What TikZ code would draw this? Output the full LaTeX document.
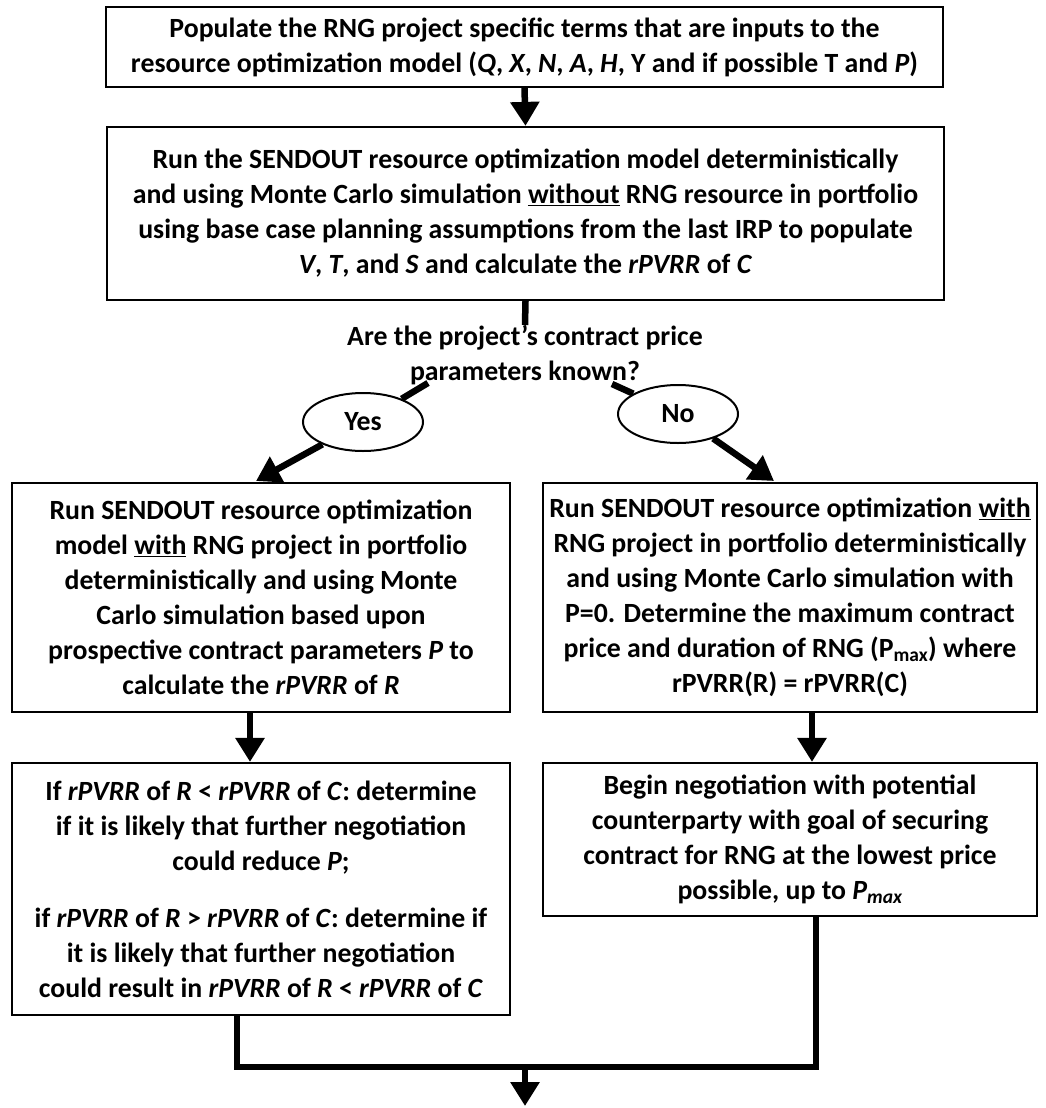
\documentclass[tikz,border=0pt]{standalone}
\usepackage{fontspec}
\setmainfont{Carlito}
\usetikzlibrary{arrows.meta,shapes.geometric}
\begin{document}
\begin{tikzpicture}[x=1pt,y=-1pt,
  every node/.style={font=\fontsize{27.8}{35}\selectfont\bfseries},
  box/.style={draw,line width=2.2pt,align=center,inner sep=0pt},
  ell/.style={ellipse,draw,line width=2pt,inner sep=0pt,minimum width=120pt,minimum height=58pt},
  txt/.style={align=center,inner sep=0pt},
  conn/.style={line width=6.5pt,line join=miter},
  arr/.style={conn,-{Triangle[width=28pt,length=24pt]}}]
\useasboundingbox (0,0) rectangle (1045,1108);

\node[box,minimum width=837pt,minimum height=80pt] (b1) at (524.5,47)
 {Populate the RNG project specific terms that are inputs to the\\
  resource optimization model (\textit{Q}, \textit{X}, \textit{N}, \textit{A}, \textit{H}, Y and if possible T and \textit{P})};

\node[box,minimum width=837pt,minimum height=173pt] (b2) at (525.5,213.5)
 {Run the SENDOUT resource optimization model deterministically\\
  and using Monte Carlo simulation \underline{without} RNG resource in portfolio\\
  using base case planning assumptions from the last IRP to populate\\
  \textit{V}, \textit{T}, and \textit{S} and calculate the \textit{rPVRR} of \textit{C}};

\node[txt] (q) at (525,355)
 {Are the project’s contract price\\ parameters known?};

\node[ell] (yes) at (363,422) {Yes};
\node[ell] (no) at (678,414) {No};

\node[box,minimum width=498pt,minimum height=229pt] (b3) at (261,597.5)
 {Run SENDOUT resource optimization\\
  model \underline{with} RNG project in portfolio\\
  deterministically and using Monte\\
  Carlo simulation based upon\\
  prospective contract parameters \textit{P} to\\
  calculate the \textit{rPVRR} of \textit{R}};

\node[box,minimum width=494pt,minimum height=229pt] (b4) at (790,597.5)
 {Run SENDOUT resource optimization \underline{with}\\
  RNG project in portfolio deterministically\\
  and using Monte Carlo simulation with\\
  P=0. Determine the maximum contract\\
  price and duration of RNG (P\textsubscript{max}) where\\
  rPVRR(R) = rPVRR(C)};

\node[box,minimum width=498pt,minimum height=252pt] (b5) at (261,889)
 {If \textit{rPVRR} of \textit{R} < \textit{rPVRR} of \textit{C}: determine\\
  if it is likely that further negotiation\\
  could reduce \textit{P};\\[22pt]
  if \textit{rPVRR} of \textit{R} > \textit{rPVRR} of \textit{C}: determine if\\
  it is likely that further negotiation\\
  could result in \textit{rPVRR} of \textit{R} < \textit{rPVRR} of \textit{C}};

\node[box,minimum width=494pt,minimum height=153pt] (b6) at (790,839.5)
 {Begin negotiation with potential\\
  counterparty with goal of securing\\
  contract for RNG at the lowest price\\
  possible, up to \textit{P\textsubscript{max}}};

\coordinate (qy) at (428,383);
\coordinate (qn) at (612,384);
\coordinate (yt) at (256,481);
\coordinate (nt) at (774,481);
\coordinate (b5s) at (237,1015);
\coordinate (b6s) at (816,916);
\coordinate (j) at (525,1067);
\coordinate (end) at (525,1106);

\draw[arr] (b1.south) -- (b2.north);
\draw[conn] (b2.south) -- (q.north);
\draw[conn] (qy) -- (yes);
\draw[arr] (yes) -- (yt);
\draw[conn] (qn) -- (no);
\draw[arr] (no) -- (nt);
\draw[arr] (b3.south -| 250,0) -- (b5.north -| 250,0);
\draw[arr] (b4.south -| 812,0) -- (b6.north -| 812,0);
\draw[conn] (b5s) |- (j) -| (b6s);
\draw[arr] (j) -- (end);
\end{tikzpicture}
\end{document}
